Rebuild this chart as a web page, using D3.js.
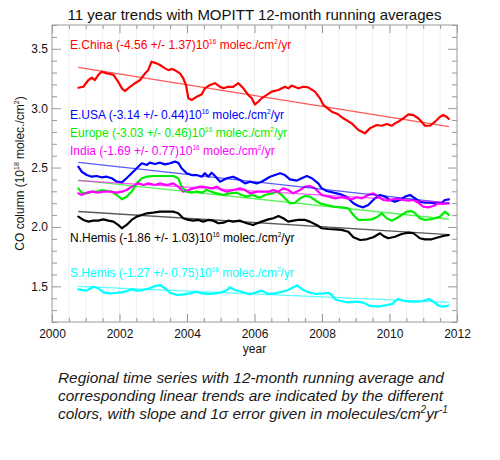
<!DOCTYPE html>
<html><head><meta charset="utf-8">
<script src="https://cdn.jsdelivr.net/npm/d3@7"></script>
<style>
body{margin:0;background:#fff;}
text{font-family:"Liberation Sans",Arial,Helvetica,sans-serif;}
</style>
</head><body>
<svg id="chart" width="500" height="460"></svg>
<script>
// ---------------- DATA ----------------
const chinaData = [[2000.78,3.172],[2000.93,3.18],[2001.08,3.237],[2001.18,3.256],[2001.27,3.237],[2001.37,3.279],[2001.47,3.307],[2001.62,3.293],[2001.72,3.288],[2001.82,3.28],[2001.96,3.223],[2002.07,3.167],[2002.16,3.144],[2002.31,3.18],[2002.46,3.21],[2002.61,3.237],[2002.76,3.293],[2002.85,3.32],[2002.95,3.391],[2003.10,3.377],[2003.20,3.363],[2003.35,3.335],[2003.45,3.32],[2003.55,3.33],[2003.64,3.32],[2003.79,3.293],[2003.89,3.25],[2003.97,3.195],[2004.04,3.083],[2004.14,3.069],[2004.29,3.097],[2004.44,3.117],[2004.53,3.167],[2004.68,3.195],[2004.83,3.21],[2004.98,3.18],[2005.08,3.167],[2005.22,3.18],[2005.37,3.18],[2005.52,3.21],[2005.67,3.167],[2005.82,3.11],[2005.92,3.083],[2006.01,3.03],[2006.11,3.054],[2006.21,3.083],[2006.51,3.139],[2006.71,3.153],[2006.90,3.18],[2007.00,3.167],[2007.10,3.19],[2007.30,3.167],[2007.45,3.18],[2007.59,3.175],[2007.79,3.139],[2007.94,3.083],[2008.04,3.027],[2008.14,3.004],[2008.29,2.97],[2008.48,2.948],[2008.63,2.915],[2008.88,2.872],[2009.08,2.816],[2009.27,2.788],[2009.42,2.83],[2009.62,2.858],[2009.77,2.852],[2009.92,2.867],[2010.07,2.852],[2010.16,2.872],[2010.26,2.886],[2010.41,2.915],[2010.56,2.948],[2010.71,2.942],[2010.85,2.915],[2010.95,2.886],[2011.05,2.852],[2011.20,2.852],[2011.35,2.886],[2011.50,2.928],[2011.59,2.942],[2011.69,2.928],[2011.76,2.909]];

const usaData = [[2000.78,2.507],[2000.88,2.465],[2001.03,2.437],[2001.18,2.423],[2001.32,2.429],[2001.47,2.418],[2001.62,2.423],[2001.77,2.41],[2001.92,2.381],[2002.07,2.376],[2002.21,2.41],[2002.36,2.452],[2002.51,2.494],[2002.66,2.536],[2002.81,2.522],[2002.90,2.541],[2003.05,2.53],[2003.20,2.541],[2003.35,2.527],[2003.50,2.536],[2003.64,2.55],[2003.74,2.541],[2003.84,2.494],[2003.99,2.452],[2004.14,2.437],[2004.29,2.437],[2004.44,2.423],[2004.53,2.452],[2004.63,2.423],[2004.73,2.457],[2004.83,2.429],[2004.98,2.381],[2005.18,2.41],[2005.37,2.423],[2005.57,2.395],[2005.72,2.367],[2005.87,2.381],[2006.07,2.367],[2006.21,2.381],[2006.46,2.423],[2006.61,2.437],[2006.76,2.452],[2006.90,2.437],[2007.05,2.401],[2007.25,2.39],[2007.40,2.41],[2007.55,2.429],[2007.70,2.41],[2007.89,2.367],[2007.99,2.325],[2008.14,2.303],[2008.34,2.289],[2008.53,2.277],[2008.73,2.255],[2008.93,2.199],[2009.08,2.176],[2009.22,2.165],[2009.37,2.185],[2009.57,2.241],[2009.72,2.269],[2009.87,2.255],[2010.01,2.227],[2010.16,2.213],[2010.31,2.227],[2010.46,2.255],[2010.61,2.269],[2010.76,2.241],[2010.90,2.213],[2011.05,2.204],[2011.20,2.204],[2011.35,2.199],[2011.55,2.204],[2011.64,2.227],[2011.76,2.232]];

const europeData = [[2000.78,2.325],[2000.88,2.289],[2001.03,2.283],[2001.18,2.297],[2001.32,2.297],[2001.47,2.311],[2001.62,2.305],[2001.77,2.297],[2001.92,2.269],[2002.07,2.233],[2002.21,2.255],[2002.36,2.297],[2002.51,2.367],[2002.66,2.41],[2002.81,2.423],[2003.00,2.429],[2003.20,2.429],[2003.40,2.429],[2003.59,2.429],[2003.74,2.41],[2003.84,2.339],[2003.99,2.297],[2004.14,2.289],[2004.29,2.297],[2004.44,2.289],[2004.58,2.311],[2004.73,2.297],[2004.88,2.283],[2005.08,2.269],[2005.27,2.283],[2005.47,2.289],[2005.62,2.269],[2005.77,2.255],[2005.92,2.269],[2006.07,2.255],[2006.16,2.247],[2006.31,2.269],[2006.51,2.283],[2006.66,2.297],[2006.81,2.269],[2006.90,2.241],[2007.05,2.199],[2007.20,2.204],[2007.35,2.241],[2007.50,2.261],[2007.64,2.255],[2007.79,2.227],[2007.94,2.199],[2008.14,2.185],[2008.34,2.171],[2008.58,2.165],[2008.78,2.157],[2008.93,2.101],[2009.08,2.059],[2009.27,2.059],[2009.47,2.064],[2009.62,2.081],[2009.77,2.115],[2009.92,2.073],[2010.07,2.053],[2010.21,2.073],[2010.36,2.101],[2010.51,2.129],[2010.66,2.134],[2010.76,2.115],[2010.90,2.073],[2011.05,2.059],[2011.20,2.064],[2011.35,2.073],[2011.50,2.087],[2011.64,2.129],[2011.76,2.101]];

const indiaData = [[2000.78,2.283],[2000.88,2.269],[2001.03,2.289],[2001.18,2.297],[2001.37,2.289],[2001.52,2.297],[2001.72,2.297],[2001.92,2.289],[2002.07,2.297],[2002.21,2.311],[2002.36,2.339],[2002.56,2.367],[2002.71,2.353],[2002.85,2.367],[2003.05,2.353],[2003.20,2.367],[2003.40,2.353],[2003.59,2.367],[2003.74,2.339],[2003.89,2.297],[2004.04,2.311],[2004.19,2.325],[2004.39,2.339],[2004.58,2.334],[2004.73,2.325],[2004.88,2.339],[2005.03,2.311],[2005.18,2.297],[2005.37,2.311],[2005.57,2.325],[2005.72,2.311],[2005.87,2.283],[2006.07,2.297],[2006.21,2.297],[2006.41,2.297],[2006.56,2.311],[2006.71,2.297],[2006.85,2.325],[2007.00,2.311],[2007.15,2.283],[2007.35,2.311],[2007.50,2.339],[2007.64,2.345],[2007.79,2.325],[2007.99,2.269],[2008.19,2.255],[2008.39,2.241],[2008.58,2.25],[2008.73,2.241],[2008.88,2.233],[2009.03,2.25],[2009.18,2.241],[2009.37,2.269],[2009.52,2.283],[2009.67,2.255],[2009.82,2.227],[2009.96,2.221],[2010.11,2.233],[2010.26,2.241],[2010.41,2.227],[2010.56,2.221],[2010.71,2.227],[2010.85,2.204],[2011.00,2.171],[2011.15,2.165],[2011.30,2.176],[2011.45,2.199],[2011.59,2.193],[2011.76,2.199]];

const nhemisData = [[2000.78,2.087],[2000.93,2.059],[2001.08,2.045],[2001.22,2.053],[2001.37,2.053],[2001.52,2.064],[2001.67,2.053],[2001.82,2.045],[2001.96,2.017],[2002.07,1.989],[2002.21,2.017],[2002.36,2.059],[2002.51,2.087],[2002.66,2.101],[2002.81,2.115],[2003.00,2.12],[2003.20,2.129],[2003.40,2.129],[2003.59,2.129],[2003.74,2.115],[2003.89,2.073],[2004.04,2.059],[2004.19,2.053],[2004.34,2.059],[2004.48,2.045],[2004.63,2.059],[2004.78,2.053],[2004.93,2.031],[2005.08,2.036],[2005.22,2.053],[2005.37,2.045],[2005.57,2.053],[2005.77,2.031],[2005.96,2.017],[2006.02,2.025],[2006.21,2.045],[2006.41,2.064],[2006.56,2.073],[2006.71,2.092],[2006.85,2.073],[2007.00,2.045],[2007.15,2.053],[2007.30,2.059],[2007.50,2.059],[2007.64,2.045],[2007.84,2.017],[2007.99,1.989],[2008.19,1.983],[2008.39,1.98],[2008.58,1.975],[2008.78,1.96],[2008.93,1.913],[2009.13,1.89],[2009.32,1.896],[2009.52,1.913],[2009.72,1.947],[2009.82,1.924],[2009.96,1.905],[2010.16,1.918],[2010.36,1.941],[2010.56,1.952],[2010.71,1.947],[2010.90,1.905],[2011.05,1.896],[2011.25,1.896],[2011.45,1.913],[2011.59,1.924],[2011.76,1.932]];

const shemisData = [[2000.78,1.475],[2001.03,1.464],[2001.22,1.497],[2001.37,1.484],[2001.52,1.45],[2001.72,1.441],[2001.92,1.446],[2002.11,1.452],[2002.26,1.464],[2002.36,1.475],[2002.51,1.464],[2002.71,1.469],[2002.90,1.484],[2003.05,1.503],[2003.20,1.511],[2003.35,1.484],[2003.50,1.446],[2003.70,1.427],[2003.89,1.433],[2004.09,1.441],[2004.29,1.455],[2004.44,1.441],[2004.63,1.436],[2004.83,1.441],[2005.03,1.45],[2005.18,1.469],[2005.27,1.492],[2005.42,1.469],[2005.62,1.455],[2005.82,1.436],[2005.96,1.441],[2006.21,1.464],[2006.41,1.436],[2006.61,1.441],[2006.81,1.455],[2007.00,1.469],[2007.15,1.492],[2007.27,1.508],[2007.45,1.469],[2007.64,1.446],[2007.84,1.436],[2008.04,1.441],[2008.19,1.446],[2008.29,1.427],[2008.39,1.391],[2008.44,1.385],[2008.73,1.366],[2009.03,1.371],[2009.22,1.363],[2009.42,1.335],[2009.67,1.329],[2009.92,1.343],[2010.07,1.351],[2010.16,1.371],[2010.26,1.394],[2010.41,1.379],[2010.61,1.371],[2010.81,1.371],[2011.00,1.377],[2011.17,1.394],[2011.30,1.371],[2011.45,1.337],[2011.59,1.329],[2011.74,1.337]];

const regions = ["E.China","E.USA","Europe","India","N.Hemis","S.Hemis"];
const slopes  = [-4.56, -3.14, -3.03, -1.69, -1.86, -1.27];
const errors  = [1.37, 0.44, 0.46, 0.77, 1.03, 0.75];
const trendYears = [2000.78, 2011.76];
const trendStart = [3.344, 2.544, 2.395, 2.39, 2.13, 1.50];
const trendEnd   = [2.844, 2.200, 2.065, 2.205, 1.935, 1.365];

const xTickLabels = ["2000","2002","2004","2006","2008","2010","2012"];
const yTickLabels = ["1.5","2.0","2.5","3.0","3.5"];

// ---------------- STYLE / LAYOUT ----------------
const seriesData = [chinaData, usaData, europeData, indiaData, nhemisData, shemisData];
const colors = ["#ff0000","#0000ff","#00ee00","#ff00ff","#000000","#00ffff"];
const labelBaseline = [49, 119, 137, 155, 242, 277];
const labelX = 70;

const svg = d3.select("#chart");
const L = 52, R = 457, T = 25, B = 322;
const x = d3.scaleLinear().domain([2000, 2012]).range([L, R]);
const y = d3.scaleLinear().domain([1.2, 3.7]).range([B, T]);

// faint vertical grid
const halfYears = d3.range(0, 25).map(i => 2000 + i * 0.5);
svg.append("g").selectAll("line").data(halfYears.slice(1, -1)).join("line")
  .attr("x1", d => x(d)).attr("x2", d => x(d)).attr("y1", T).attr("y2", B)
  .attr("stroke", "#efefef").attr("stroke-width", 1);

const axisColor = "#999";
const xMajor = xTickLabels.map(Number);
const xMinor = halfYears.filter(v => !xMajor.includes(v));
const yMajor = yTickLabels.map(Number);
const yMinor = d3.range(12, 38).map(i => i / 10).filter(v => !yMajor.some(m => Math.abs(m - v) < 1e-6));

function styleAxis(g) {
  g.select(".domain").remove();
  g.selectAll(".tick line").attr("stroke", axisColor);
  g.selectAll(".tick text").attr("fill", "#111").style("font-size", "12px")
    .style("font-family", "'Liberation Sans',Arial,Helvetica,sans-serif");
}

// bottom
svg.append("g").attr("transform", `translate(0,${B})`)
  .call(d3.axisBottom(x).tickValues(xMajor).tickFormat((d, i) => xTickLabels[i]).tickSize(-8).tickPadding(7)).call(styleAxis);
svg.append("g").attr("transform", `translate(0,${B})`)
  .call(d3.axisBottom(x).tickValues(xMinor).tickFormat("").tickSize(-4)).call(styleAxis);
// top
svg.append("g").attr("transform", `translate(0,${T})`)
  .call(d3.axisTop(x).tickValues(xMajor).tickFormat("").tickSize(-8)).call(styleAxis);
svg.append("g").attr("transform", `translate(0,${T})`)
  .call(d3.axisTop(x).tickValues(xMinor).tickFormat("").tickSize(-4)).call(styleAxis);
// left
svg.append("g").attr("transform", `translate(${L},0)`)
  .call(d3.axisLeft(y).tickValues(yMajor).tickFormat((d, i) => yTickLabels[i]).tickSize(-9).tickPadding(4)).call(styleAxis);
svg.append("g").attr("transform", `translate(${L},0)`)
  .call(d3.axisLeft(y).tickValues(yMinor).tickFormat("").tickSize(-5)).call(styleAxis);
// right
svg.append("g").attr("transform", `translate(${R},0)`)
  .call(d3.axisRight(y).tickValues(yMajor).tickFormat("").tickSize(-9)).call(styleAxis);
svg.append("g").attr("transform", `translate(${R},0)`)
  .call(d3.axisRight(y).tickValues(yMinor).tickFormat("").tickSize(-5)).call(styleAxis);

// frame
svg.append("rect").attr("x", L).attr("y", T).attr("width", R - L).attr("height", B - T)
  .attr("fill", "none").attr("stroke", axisColor).attr("stroke-width", 1);

// data lines
const line = d3.line().x(d => x(d[0])).y(d => y(d[1])).curve(d3.curveLinear);
seriesData.forEach((data, i) => {
  svg.append("path").datum(data).attr("d", line)
    .attr("fill", "none").attr("stroke", colors[i]).attr("stroke-width", 2.2)
    .attr("stroke-linejoin", "round").attr("stroke-linecap", "round");
});
// trend lines
regions.forEach((r, i) => {
  const pts = [[trendYears[0], trendStart[i]], [trendYears[1], trendEnd[i]]];
  svg.append("path").datum(pts).attr("d", line)
    .attr("fill", "none").attr("stroke", colors[i]).attr("stroke-width", 1.3)
    .attr("stroke-opacity", 0.65);
});

// legend labels
regions.forEach((r, i) => {
  const t = svg.append("text").attr("x", labelX).attr("y", labelBaseline[i])
    .attr("fill", colors[i]).style("font-size", "12px");
  t.append("tspan").text(`${r} (${slopes[i].toFixed(2)} +/- ${errors[i].toFixed(2)})10`);
  t.append("tspan").attr("dy", -5).style("font-size", "6.5px").text("16");
  t.append("tspan").attr("dy", 5).text(" molec./cm");
  t.append("tspan").attr("dy", -5).style("font-size", "6.5px").text("2");
  t.append("tspan").attr("dy", 5).text("/yr");
});

// title
svg.append("text").attr("x", (L + R) / 2).attr("y", 20).attr("text-anchor", "middle")
  .style("font-size", "15px").attr("fill", "#111")
  .text("11 year trends with MOPITT 12-month running averages");

// axis titles
svg.append("text").attr("x", (L + R) / 2).attr("y", 353).attr("text-anchor", "middle")
  .style("font-size", "12px").attr("fill", "#111").text("year");
const yl = svg.append("text").attr("transform", `translate(24,${(T + B) / 2}) rotate(-90)`)
  .attr("text-anchor", "middle").style("font-size", "12px").attr("fill", "#111");
yl.append("tspan").text("CO column (10");
yl.append("tspan").attr("dy", -5).style("font-size", "7px").text("18");
yl.append("tspan").attr("dy", 5).text(" molec./cm");
yl.append("tspan").attr("dy", -5).style("font-size", "7px").text("2");
yl.append("tspan").attr("dy", 5).text(")");

// caption
const capLines = [
  "Regional time series with 12-month running average and",
  "corresponding linear trends are indicated by the different",
  "colors, with slope and 1σ error given in molecules/cm"
];
const capBase = [383, 401, 419];
capLines.forEach((s, i) => {
  const t = svg.append("text").attr("x", 58).attr("y", capBase[i])
    .style("font-size", "15.4px").style("font-style", "italic").attr("fill", "#1a1a1a");
  t.append("tspan").text(s);
  if (i === 2) {
    t.append("tspan").attr("dy", -6).style("font-size", "10px").text("2");
    t.append("tspan").attr("dy", 6).text("yr");
    t.append("tspan").attr("dy", -6).style("font-size", "10px").text("-1");
  }
});
</script>
</body></html>
